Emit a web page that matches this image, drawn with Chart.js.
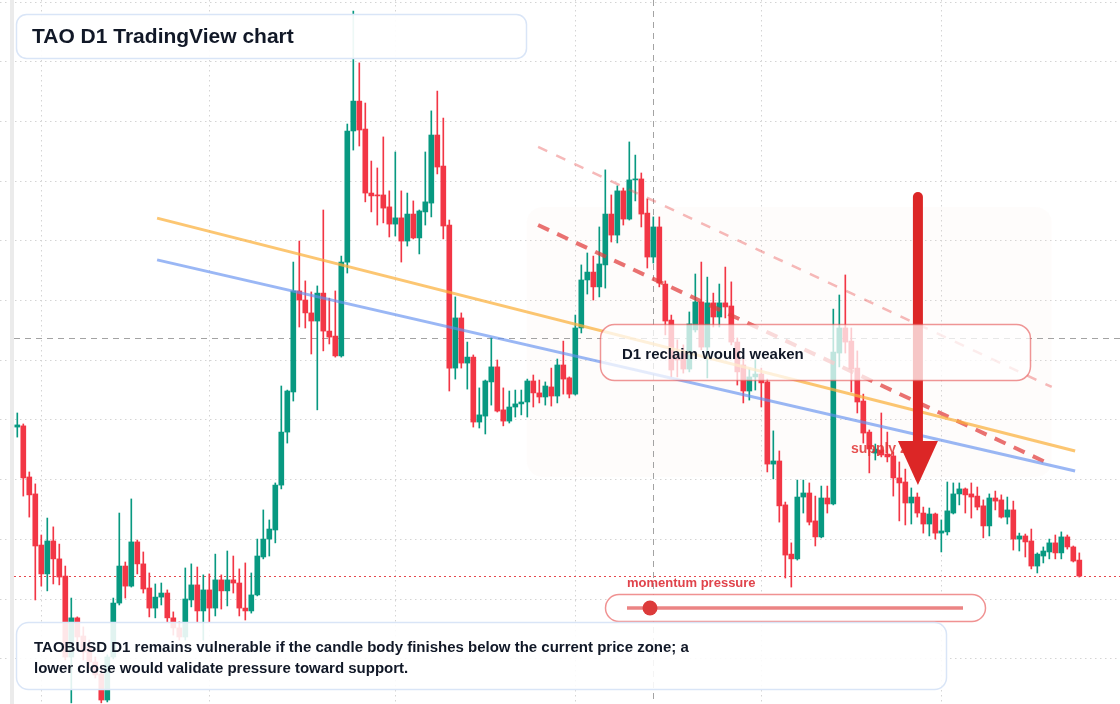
<!DOCTYPE html>
<html>
<head>
<meta charset="utf-8">
<title>TAO D1 TradingView chart</title>
<script src="https://cdn.jsdelivr.net/npm/chart.js@4.4.1/dist/chart.umd.min.js"></script>
<style>
    html, body { margin: 0; padding: 0; background: #ffffff; }
    #wrap { width: 1120px; height: 704px; position: relative; }
</style>
</head>
<body>
<div id="wrap"><canvas id="chart_tao" width="1120" height="704"></canvas></div>
<script>
const FONT = "'Liberation Sans', Arial, Helvetica, sans-serif";
const UP = '#089981';
const DOWN = '#f23645';

// daily candles (index 0 = first visible day)
const opens = [
    322.0, 322.5, 301.1, 294.0, 272.6, 260.5, 274.3, 266.8, 259.6, 225.7,
    242.1, 234.5, 229.9, 223.6, 218.6, 207.7, 225.7, 248.3, 263.8, 255.4,
    273.9, 264.7, 254.6, 246.2, 250.8, 252.5, 242.1, 237.9, 234.1, 249.6,
    255.9, 245.0, 253.8, 246.2, 258.0, 253.4, 258.0, 256.7, 246.2, 245.0,
    251.7, 267.6, 275.1, 278.9, 297.7, 319.9, 336.7, 379.0, 375.2, 369.8,
    366.4, 378.1, 362.2, 360.1, 351.8, 391.1, 446.0, 458.5, 446.8, 420.0,
    419.2, 419.2, 414.2, 407.0, 409.6, 399.9, 411.2, 401.2, 412.1, 415.8,
    444.3, 431.3, 406.6, 346.7, 367.7, 348.8, 351.3, 324.1, 326.6, 340.9,
    347.2, 329.2, 324.5, 330.4, 331.7, 332.5, 341.3, 336.3, 334.6, 338.8,
    335.0, 348.0, 342.6, 335.8, 363.5, 383.6, 386.9, 380.7, 389.9, 411.2,
    402.4, 420.9, 409.1, 425.5, 425.9, 411.6, 393.2, 405.8, 381.9, 366.8,
    351.8, 353.4, 346.3, 362.7, 374.4, 355.5, 374.0, 368.1, 374.0, 372.7,
    357.6, 348.0, 337.1, 343.0, 344.2, 340.9, 306.5, 307.8, 289.4, 268.8,
    266.8, 292.7, 294.4, 282.7, 276.0, 292.3, 289.8, 353.0, 363.5, 358.0,
    346.7, 332.9, 319.9, 311.1, 312.4, 310.7, 309.9, 300.7, 299.0, 290.2,
    292.7, 286.0, 281.4, 285.6, 277.6, 278.1, 286.0, 294.0, 296.1, 294.0,
    293.1, 289.0, 280.6, 292.3, 291.5, 284.3, 287.3, 275.1, 276.4, 274.3,
    263.8, 268.0, 269.7, 273.5, 269.3, 276.0, 271.8, 266.3
];
const highs = [
    327.9, 323.3, 303.2, 298.2, 276.8, 283.9, 280.2, 273.0, 263.8, 250.4,
    242.5, 238.3, 232.8, 225.7, 221.5, 226.6, 250.4, 286.0, 265.5, 291.9,
    274.7, 269.7, 260.9, 256.3, 256.7, 253.8, 244.6, 240.4, 263.0, 264.7,
    263.4, 260.1, 260.5, 268.8, 260.1, 270.1, 268.0, 262.6, 265.1, 260.9,
    275.1, 287.3, 283.1, 298.6, 339.2, 337.5, 391.1, 399.9, 383.2, 378.6,
    381.1, 412.9, 376.0, 379.0, 393.6, 448.9, 496.2, 474.5, 457.7, 433.4,
    430.5, 443.5, 420.9, 437.2, 420.9, 420.0, 416.7, 412.9, 437.2, 454.4,
    462.7, 451.4, 408.7, 376.5, 369.8, 357.6, 352.2, 338.4, 341.7, 359.3,
    350.1, 338.4, 337.1, 337.5, 337.5, 342.1, 343.8, 341.7, 340.9, 346.7,
    350.5, 358.0, 343.0, 368.9, 389.9, 394.9, 393.6, 405.8, 429.7, 419.2,
    423.0, 422.1, 441.4, 435.9, 428.4, 417.5, 410.0, 410.0, 383.2, 368.9,
    358.5, 356.4, 370.2, 386.1, 391.1, 384.8, 378.1, 381.9, 389.0, 382.8,
    359.3, 350.9, 346.3, 350.1, 346.7, 342.1, 320.4, 312.0, 290.6, 273.5,
    299.8, 299.8, 298.6, 293.1, 297.3, 297.3, 371.4, 377.3, 385.7, 363.5,
    353.9, 335.8, 320.8, 314.9, 327.9, 319.9, 311.6, 307.4, 304.4, 296.5,
    294.4, 288.5, 288.1, 286.0, 283.1, 299.0, 298.6, 298.6, 296.5, 298.6,
    296.9, 291.5, 294.0, 295.2, 293.6, 292.7, 291.0, 277.6, 277.2, 279.3,
    269.3, 271.8, 275.1, 276.8, 278.1, 276.8, 272.2, 269.3
];
const lows = [
    317.8, 293.1, 284.3, 249.6, 255.4, 253.4, 256.3, 255.9, 224.5, 206.5,
    230.7, 224.5, 221.1, 216.9, 206.5, 206.9, 224.9, 247.5, 250.4, 255.0,
    260.5, 252.5, 242.5, 242.1, 247.5, 240.4, 234.9, 232.8, 232.8, 246.7,
    240.4, 232.8, 240.4, 242.9, 245.8, 247.1, 252.5, 242.9, 241.2, 244.1,
    251.3, 266.8, 268.0, 273.5, 296.1, 315.3, 332.9, 363.9, 363.5, 352.6,
    329.2, 353.9, 356.8, 351.3, 351.3, 386.5, 438.0, 439.7, 416.3, 412.1,
    406.6, 407.5, 401.6, 402.0, 391.1, 397.8, 400.8, 394.5, 406.6, 410.0,
    428.0, 400.8, 337.1, 342.1, 346.7, 337.9, 322.0, 321.6, 319.1, 331.2,
    328.3, 322.5, 323.7, 326.2, 327.1, 326.2, 330.4, 332.1, 331.2, 330.8,
    332.1, 335.8, 334.2, 335.4, 361.4, 377.7, 375.2, 376.5, 380.2, 399.5,
    399.1, 406.6, 408.7, 416.7, 405.8, 388.6, 390.7, 380.7, 360.6, 343.0,
    343.0, 344.6, 345.1, 361.8, 354.3, 342.6, 363.9, 363.9, 367.7, 356.4,
    339.6, 332.1, 333.3, 337.5, 330.4, 303.2, 300.3, 282.2, 258.8, 255.0,
    266.3, 286.0, 281.0, 272.2, 275.6, 286.0, 289.4, 347.2, 353.0, 336.7,
    327.9, 315.3, 302.8, 308.2, 309.5, 307.4, 293.1, 282.7, 281.0, 281.4,
    284.3, 277.6, 276.4, 275.1, 269.7, 276.8, 285.6, 289.4, 286.0, 283.9,
    287.3, 275.6, 276.4, 287.3, 283.9, 281.4, 270.5, 270.1, 267.6, 262.6,
    260.9, 265.1, 266.8, 266.8, 266.8, 270.9, 265.5, 259.2
];
const closes = [
    322.9, 300.7, 293.6, 272.2, 260.5, 274.3, 266.8, 259.2, 225.7, 242.1,
    234.1, 227.8, 223.6, 218.2, 207.7, 225.7, 248.3, 263.8, 255.4, 273.9,
    264.7, 254.2, 246.2, 250.8, 252.5, 242.1, 237.9, 234.1, 250.0, 255.9,
    245.0, 253.8, 246.2, 258.0, 253.4, 258.0, 256.7, 246.2, 245.0, 251.7,
    268.0, 275.1, 279.3, 297.7, 319.9, 337.1, 379.0, 375.2, 369.8, 366.4,
    378.1, 362.2, 359.7, 351.8, 391.1, 446.0, 458.5, 446.4, 420.0, 418.8,
    418.8, 413.7, 407.0, 409.6, 399.9, 411.2, 401.2, 412.5, 416.3, 444.3,
    430.9, 406.2, 346.7, 367.7, 348.8, 351.3, 324.1, 327.1, 341.3, 347.2,
    328.7, 324.5, 330.4, 331.7, 332.5, 341.3, 336.3, 334.6, 339.2, 335.0,
    348.0, 342.1, 335.8, 363.5, 383.6, 386.9, 380.7, 390.3, 411.2, 402.4,
    420.9, 409.1, 425.5, 425.9, 411.2, 393.2, 405.8, 382.3, 366.4, 345.9,
    350.1, 346.3, 365.2, 374.4, 355.5, 374.0, 368.1, 374.0, 372.3, 357.6,
    345.1, 337.1, 343.0, 344.2, 340.5, 306.5, 307.8, 289.0, 268.4, 266.8,
    292.7, 294.4, 282.2, 276.0, 292.3, 289.8, 353.4, 363.5, 357.6, 346.3,
    332.5, 319.5, 312.8, 312.8, 310.3, 309.5, 300.7, 298.6, 290.2, 292.7,
    286.0, 281.4, 285.6, 277.6, 278.5, 286.9, 294.0, 296.1, 293.6, 292.7,
    288.5, 280.6, 292.3, 291.0, 284.3, 287.3, 275.1, 276.4, 273.9, 263.8,
    268.8, 270.1, 273.5, 269.3, 276.0, 271.8, 265.9, 259.6
];

const monthStarts = [4, 32, 63, 93, 124, 154];   // vertical grid = first day of month
const priceTicks = [225, 250, 275, 300, 325, 350, 375, 400, 425, 450, 475, 500];

// trend lines: [start, end] as (day index, price)
const orangeX = [23.3, 176.3];
const orangeY = [409.5, 312.0];
const blueX = [23.3, 176.3];
const blueY = [392.0, 303.6];
const upperChanX = [86.8, 172.4];
const upperChanY = [439.3, 338.8];
const lowerChanX = [86.8, 172.4];
const lowerChanY = [406.6, 306.1];

function toPoints(xs, ys) {
    return xs.map((x, i) => ({x: x, y: ys[i]}));
}

const wickData = lows.map((lo, i) => ({x: i, y: [lo, highs[i]]}));
const bodyData = opens.map((o, i) => ({x: i, y: [o, closes[i]]}));
const candleColors = opens.map((o, i) => closes[i] >= o ? UP : DOWN);

function roundRect(ctx, x, y, w, h, r) {
    ctx.beginPath();
    ctx.moveTo(x + r, y);
    ctx.lineTo(x + w - r, y);
    ctx.arcTo(x + w, y, x + w, y + r, r);
    ctx.lineTo(x + w, y + h - r);
    ctx.arcTo(x + w, y + h, x + w - r, y + h, r);
    ctx.lineTo(x + r, y + h);
    ctx.arcTo(x, y + h, x, y + h - r, r);
    ctx.lineTo(x, y + r);
    ctx.arcTo(x, y, x + r, y, r);
    ctx.closePath();
}

const underlay = {
    id: 'underlay',
    beforeDatasetsDraw(chart) {
        const ctx = chart.ctx;
        const xs = chart.scales.x;
        const ys = chart.scales.y;
        ctx.save();

        // left rail
        ctx.fillStyle = '#ebebeb';
        ctx.fillRect(10, 0, 4, chart.height);

        // faint supply zone behind the candles
        const zx0 = xs.getPixelForValue(84.9), zx1 = xs.getPixelForValue(172.4);
        const zy0 = ys.getPixelForValue(414.2), zy1 = ys.getPixelForValue(301.1);
        roundRect(ctx, zx0, zy0, zx1 - zx0, zy1 - zy0, 16);
        ctx.fillStyle = 'rgba(240, 215, 200, 0.07)';
        ctx.fill();

        // crosshair
        ctx.strokeStyle = '#a3a3a3';
        ctx.lineWidth = 1;
        ctx.setLineDash([6, 5]);
        const cx = Math.round(xs.getPixelForValue(106)) + 0.5;
        const cy = Math.round(ys.getPixelForValue(359.3)) + 0.5;
        ctx.beginPath();
        ctx.moveTo(cx, 0); ctx.lineTo(cx, chart.height);
        ctx.moveTo(14, cy); ctx.lineTo(chart.width, cy);
        ctx.stroke();

        // last price line
        const py = Math.round(ys.getPixelForValue(closes[closes.length - 1])) + 0.5;
        ctx.strokeStyle = '#e5484d';
        ctx.setLineDash([2, 3]);
        ctx.beginPath();
        ctx.moveTo(14, py); ctx.lineTo(chart.width, py);
        ctx.stroke();
        ctx.restore();
    }
};

const overlay = {
    id: 'overlay',
    afterDatasetsDraw(chart) {
        const ctx = chart.ctx;
        const xs = chart.scales.x;
        const ys = chart.scales.y;
        ctx.save();
        ctx.textBaseline = 'middle';
        ctx.textAlign = 'left';

        // supply label (sits under the arrow head)
        ctx.font = 'bold 14px ' + FONT;
        ctx.fillStyle = 'rgba(226, 50, 50, 0.85)';
        ctx.fillText('supply zone', 851, 449);

        // big down arrow
        const ax = xs.getPixelForValue(150.1);
        const aTop = ys.getPixelForValue(418.3);
        const aBase = ys.getPixelForValue(316.2);
        const aTip = ys.getPixelForValue(297.7);
        ctx.strokeStyle = '#dc2626';
        ctx.fillStyle = '#dc2626';
        ctx.lineWidth = 10;
        ctx.lineCap = 'round';
        ctx.beginPath();
        ctx.moveTo(ax, aTop); ctx.lineTo(ax, aBase + 4);
        ctx.stroke();
        ctx.beginPath();
        ctx.moveTo(ax - 20, aBase); ctx.lineTo(ax + 20, aBase); ctx.lineTo(ax, aTip);
        ctx.closePath();
        ctx.fill();
        ctx.lineCap = 'butt';

        // D1 reclaim note
        roundRect(ctx, 600.5, 324.5, 430, 56, 14);
        ctx.fillStyle = 'rgba(255, 255, 255, 0.74)';
        ctx.fill();
        ctx.strokeStyle = 'rgba(228, 80, 80, 0.6)';
        ctx.lineWidth = 1.5;
        ctx.stroke();
        ctx.font = 'bold 15px ' + FONT;
        ctx.fillStyle = '#111827';
        ctx.fillText('D1 reclaim would weaken', 622, 354.5);

        // momentum pressure gauge
        ctx.font = 'bold 13px ' + FONT;
        ctx.fillStyle = '#e0434b';
        ctx.fillText('momentum pressure', 627, 583);
        roundRect(ctx, 605.5, 594.5, 380, 27, 13.5);
        ctx.fillStyle = '#ffffff';
        ctx.fill();
        ctx.strokeStyle = 'rgba(235, 110, 110, 0.75)';
        ctx.lineWidth = 1.5;
        ctx.stroke();
        ctx.strokeStyle = 'rgba(232, 110, 110, 0.85)';
        ctx.lineWidth = 3.5;
        ctx.beginPath();
        ctx.moveTo(627, 608); ctx.lineTo(963, 608);
        ctx.stroke();
        ctx.fillStyle = '#dc3b3b';
        ctx.beginPath();
        ctx.arc(650, 608, 7.5, 0, Math.PI * 2);
        ctx.fill();

        // bottom commentary
        roundRect(ctx, 16.5, 622.5, 930, 67, 12);
        ctx.fillStyle = 'rgba(255, 255, 255, 0.88)';
        ctx.fill();
        ctx.strokeStyle = '#d9e5f7';
        ctx.lineWidth = 1.5;
        ctx.stroke();
        ctx.font = 'bold 15px ' + FONT;
        ctx.fillStyle = '#111827';
        ctx.fillText('TAOBUSD D1 remains vulnerable if the candle body finishes below the current price zone; a', 34, 648);
        ctx.fillText('lower close would validate pressure toward support.', 34, 669);

        // title
        roundRect(ctx, 16.5, 14.5, 510, 44, 10);
        ctx.fillStyle = 'rgba(255, 255, 255, 0.93)';
        ctx.fill();
        ctx.strokeStyle = '#d9e5f7';
        ctx.stroke();
        ctx.font = 'bold 21px ' + FONT;
        ctx.fillStyle = '#111827';
        ctx.fillText('TAO D1 TradingView chart', 32, 37);

        ctx.restore();
    }
};

function trendLine(data, color, width, dash) {
    return {
        type: 'line',
        data: data,
        borderColor: color,
        borderWidth: width,
        borderDash: dash,
        pointRadius: 0,
        fill: false,
        tension: 0,
        order: 0
    };
}

const ctx = document.getElementById('chart_tao').getContext('2d');
const taoChart = new Chart(ctx, {
    type: 'bar',
    data: {
        datasets: [
            {
                label: 'wick',
                data: wickData,
                backgroundColor: candleColors,
                barThickness: 1,
                grouped: false,
                order: 3
            },
            {
                label: 'body',
                data: bodyData,
                backgroundColor: candleColors,
                barThickness: 5,
                minBarLength: 1,
                grouped: false,
                order: 2
            },
            trendLine(toPoints(orangeX, orangeY), 'rgba(251, 176, 59, 0.72)', 3, []),
            trendLine(toPoints(blueX, blueY), 'rgba(100, 145, 240, 0.65)', 3, []),
            trendLine(toPoints(upperChanX, upperChanY), 'rgba(232, 80, 80, 0.4)', 2.5, [10, 10]),
            trendLine(toPoints(lowerChanX, lowerChanY), 'rgba(226, 60, 60, 0.72)', 4, [12, 9])
        ]
    },
    options: {
        responsive: false,
        animation: false,
        devicePixelRatio: 1,
        layout: { padding: 0 },
        plugins: {
            legend: { display: false },
            tooltip: { enabled: false }
        },
        scales: {
            x: {
                type: 'linear',
                min: -2.883,
                max: 183.78,
                offset: false,
                afterBuildTicks: scale => {
                    scale.ticks = monthStarts.map(v => ({value: v}));
                },
                ticks: { display: false },
                grid: { color: '#d4d4d4', drawTicks: false, offset: false },
                border: { display: false, dash: [1.5, 3.5] }
            },
            y: {
                type: 'linear',
                min: 206.03,
                max: 500.84,
                afterBuildTicks: scale => {
                    scale.ticks = priceTicks.map(v => ({value: v}));
                },
                ticks: { display: false },
                grid: { color: '#d4d4d4', drawTicks: false },
                border: { display: false, dash: [1.5, 3.5] }
            }
        }
    },
    plugins: [underlay, overlay]
});
</script>
</body>
</html>
